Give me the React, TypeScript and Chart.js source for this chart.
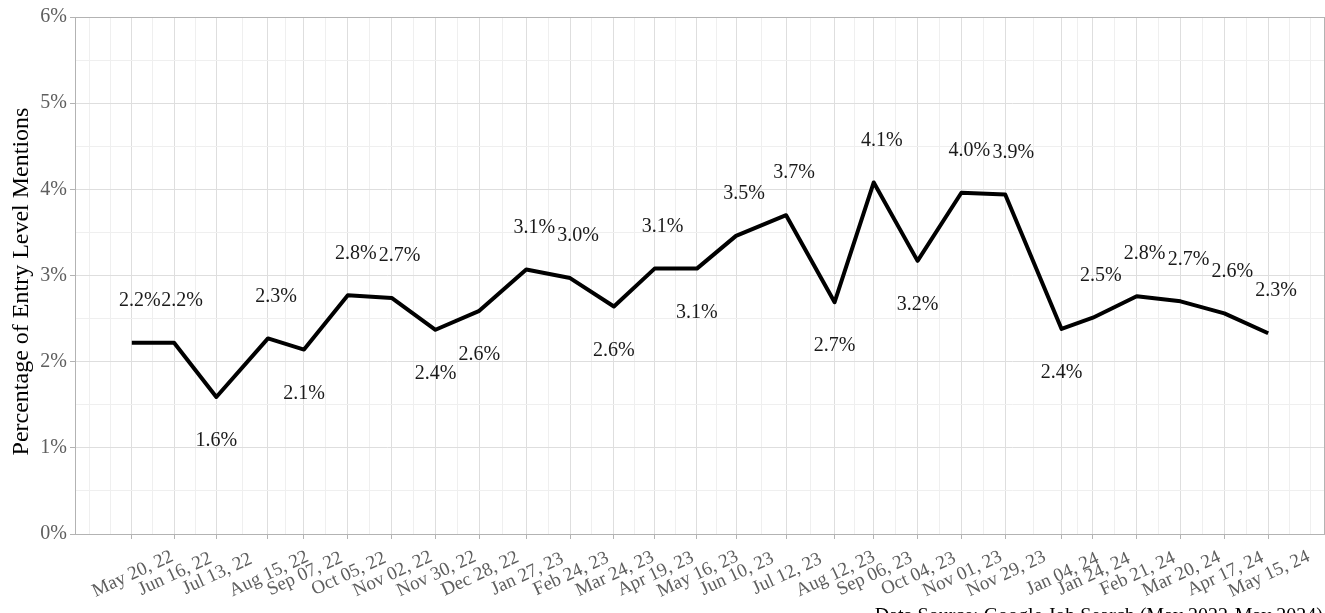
import React, { useEffect, useRef } from "react";
import { Chart, registerables } from "chart.js";

Chart.register(...registerables);

// ---- data ----
const dates = [
  "2022-05-20", "2022-06-16", "2022-07-13", "2022-08-15", "2022-09-07", "2022-10-05",
  "2022-11-02", "2022-11-30", "2022-12-28", "2023-01-27", "2023-02-24", "2023-03-24",
  "2023-04-19", "2023-05-16", "2023-06-10", "2023-07-12", "2023-08-12", "2023-09-06",
  "2023-10-04", "2023-11-01", "2023-11-29", "2024-01-04", "2024-01-24", "2024-02-21",
  "2024-03-20", "2024-04-17", "2024-05-15",
];
const tickLabels = [
  "May 20, 22", "Jun 16, 22", "Jul 13, 22", "Aug 15, 22", "Sep 07, 22", "Oct 05, 22",
  "Nov 02, 22", "Nov 30, 22", "Dec 28, 22", "Jan 27, 23", "Feb 24, 23", "Mar 24, 23",
  "Apr 19, 23", "May 16, 23", "Jun 10, 23", "Jul 12, 23", "Aug 12, 23", "Sep 06, 23",
  "Oct 04, 23", "Nov 01, 23", "Nov 29, 23", "Jan 04, 24", "Jan 24, 24", "Feb 21, 24",
  "Mar 20, 24", "Apr 17, 24", "May 15, 24",
];
const values = [
  2.22, 2.22, 1.59, 2.27, 2.14, 2.77,
  2.74, 2.37, 2.59, 3.07, 2.97, 2.64,
  3.08, 3.08, 3.46, 3.70, 2.69, 4.08,
  3.17, 3.96, 3.94, 2.38, 2.51, 2.76,
  2.70, 2.56, 2.33,
];
// 1 = label above the point, -1 = label below
const labelSide = [
  1, 1, -1, 1, -1, 1,
  1, -1, -1, 1, 1, -1,
  1, -1, 1, 1, -1, 1,
  -1, 1, 1, -1, 1, 1,
  1, 1, 1,
];
const yMajorTicks = [0, 1, 2, 3, 4, 5, 6];
const yTitle = "Percentage of Entry Level Mentions";
const caption = "Data Source: Google Job Search (May 2022-May 2024)";

// ---- derived ----
const DAY = 86400000;
const t0 = Date.parse(dates[0]);
const xs = dates.map((d) => (Date.parse(d) - t0) / DAY);
const span = xs[xs.length - 1] - xs[0];
const xPad = span * 0.05;
const firstDiff = xs[1] - xs[0];

const xMajorSet = new Set(xs);
const xMinor: number[] = [];
{
  const ext = [xs[0] - firstDiff, ...xs, xs[xs.length - 1] + firstDiff];
  for (let i = 0; i < ext.length - 1; i++) {
    xMinor.push(ext[i]);
    xMinor.push((ext[i] + ext[i + 1]) / 2);
  }
  xMinor.push(ext[ext.length - 1]);
}
const xAllTicks = Array.from(new Set([...xMinor, ...xs]))
  .filter((v) => v >= -xPad && v <= span + xPad)
  .sort((a, b) => a - b);

const yAllTicks: number[] = [];
for (let v = 0; v <= 6.0001; v += 0.5) yAllTicks.push(Math.round(v * 10) / 10);
const yMajorSet = new Set(yMajorTicks);

const FONT = '"Liberation Serif", "DejaVu Serif", "Times New Roman", serif';
const MAJOR_GRID = "#dedede";
const MINOR_GRID = "#efefef";
const BORDER = "#b3b3b3";
const AXIS_TEXT = "#5e5e5e";

const overlayPlugin = {
  id: "overlay",
  afterDatasetsDraw(chart: any) {
    const { ctx } = chart;
    const xScale = chart.scales.x;
    const yScale = chart.scales.y;
    ctx.save();
    ctx.font = `20px ${FONT}`;
    ctx.fillStyle = "#1a1a1a";
    ctx.textAlign = "center";
    ctx.textBaseline = "middle";
    values.forEach((v, i) => {
      const px = xScale.getPixelForValue(xs[i]);
      const py = yScale.getPixelForValue(v);
      const txt = v.toFixed(1) + "%";
      if (labelSide[i] > 0) ctx.fillText(txt, px + 8, py - 42);
      else ctx.fillText(txt, px, py + 44);
    });
    ctx.restore();
  },
  afterDraw(chart: any) {
    const { ctx, chartArea } = chart;
    const xScale = chart.scales.x;
    ctx.save();
    ctx.strokeStyle = BORDER;
    ctx.lineWidth = 1;
    ctx.strokeRect(
      Math.round(chartArea.left) + 0.5,
      Math.round(chartArea.top) + 0.5,
      Math.round(chartArea.right - chartArea.left) - 1,
      Math.round(chartArea.bottom - chartArea.top)
    );
    ctx.font = `19px ${FONT}`;
    ctx.fillStyle = AXIS_TEXT;
    ctx.textAlign = "center";
    ctx.textBaseline = "middle";
    xs.forEach((x, i) => {
      const px = xScale.getPixelForValue(x);
      ctx.save();
      ctx.translate(px + 1, chartArea.bottom + 40);
      ctx.rotate((-25 * Math.PI) / 180);
      ctx.fillText(tickLabels[i], 0, 0);
      ctx.restore();
    });
    ctx.font = `24px ${FONT}`;
    ctx.fillStyle = "#000";
    ctx.save();
    ctx.translate(22, (chartArea.top + chartArea.bottom) / 2 + 6);
    ctx.rotate(-Math.PI / 2);
    ctx.fillText(yTitle, 0, 0);
    ctx.restore();
    ctx.font = `20px ${FONT}`;
    ctx.textAlign = "right";
    ctx.textBaseline = "alphabetic";
    ctx.fillStyle = "#000";
    ctx.fillText(caption, 1323, 622);
    ctx.restore();
  },
};

export default function App() {
  const ref = useRef<HTMLCanvasElement | null>(null);
  useEffect(() => {
    document.body.style.margin = "0";
    const canvas = ref.current;
    if (!canvas) return;
    const chart = new Chart(canvas, {
      type: "line",
      data: {
        datasets: [
          {
            data: xs.map((x, i) => ({ x, y: values[i] })),
            borderColor: "#000",
            borderWidth: 4,
            pointRadius: 0,
            borderJoinStyle: "round",
            borderCapStyle: "butt",
            fill: false,
            tension: 0,
          },
        ],
      },
      options: {
        animation: false,
        responsive: false,
        maintainAspectRatio: false,
        devicePixelRatio: 1,
        layout: { padding: { top: 17, right: 0, left: 0, bottom: 0 } },
        plugins: {
          legend: { display: false },
          tooltip: { enabled: false },
          title: { display: false },
        },
        scales: {
          x: {
            type: "linear",
            min: -xPad,
            max: span + xPad,
            afterBuildTicks: (scale: any) => {
              scale.ticks = xAllTicks.map((v) => ({ value: v }));
            },
            afterFit: (scale: any) => {
              scale.height = 79;
            },
            border: { display: false },
            grid: {
              color: (c: any) => (xMajorSet.has(c.tick?.value) ? MAJOR_GRID : MINOR_GRID),
              lineWidth: 1,
              tickLength: 5,
              tickColor: (c: any) => (xMajorSet.has(c.tick?.value) ? BORDER : "rgba(0,0,0,0)"),
            },
            ticks: { display: false, autoSkip: false },
          },
          y: {
            type: "linear",
            min: 0,
            max: 6,
            afterBuildTicks: (scale: any) => {
              scale.ticks = yAllTicks.map((v) => ({ value: v }));
            },
            afterFit: (scale: any) => {
              scale.width = 75;
            },
            border: { display: false },
            grid: {
              color: (c: any) => (yMajorSet.has(c.tick?.value) ? MAJOR_GRID : MINOR_GRID),
              lineWidth: 1,
              tickLength: 5,
              tickColor: (c: any) => (yMajorSet.has(c.tick?.value) ? BORDER : "rgba(0,0,0,0)"),
            },
            ticks: {
              autoSkip: false,
              padding: 3,
              color: AXIS_TEXT,
              font: { family: FONT, size: 20 },
              callback: (v: any) => (yMajorSet.has(Number(v)) ? `${v}%` : ""),
            },
          },
        },
      },
      plugins: [overlayPlugin],
    } as any);
    return () => chart.destroy();
  }, []);
  return (
    <div style={{ position: "absolute", left: 0, top: 0, width: 1325, height: 613 }}>
      <canvas ref={ref} width={1325} height={613} style={{ display: "block", width: 1325, height: 613 }} />
    </div>
  );
}
